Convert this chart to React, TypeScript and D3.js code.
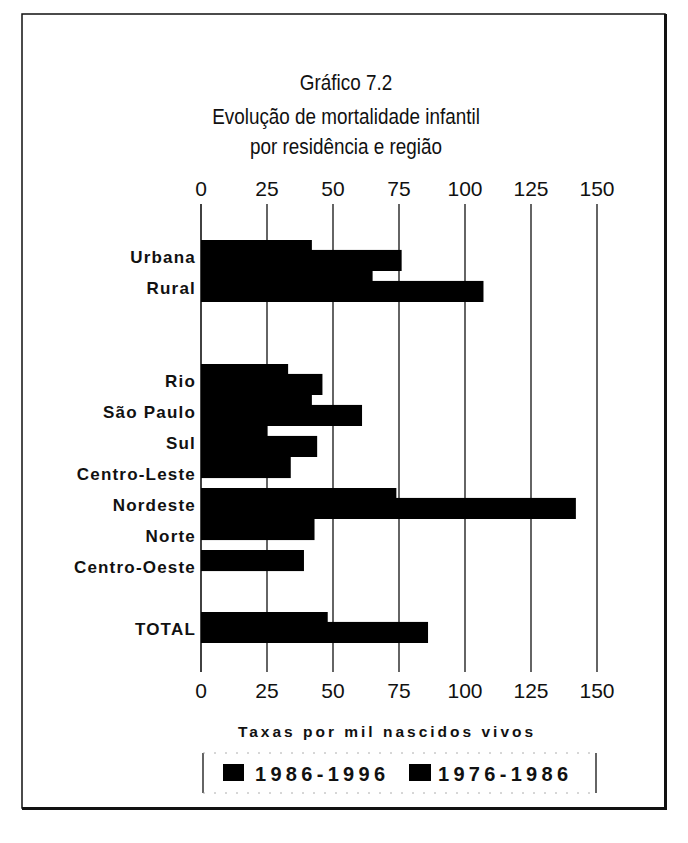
import React from "react";
import * as d3 from "d3";

const rows = ["Urbana", "Rural", "gap1", "gap2", "Rio", "São Paulo", "Sul", "Centro-Leste", "Nordeste", "Norte", "Centro-Oeste", "gap3", "TOTAL"];
const categories = ["Urbana", "Rural", "Rio", "São Paulo", "Sul", "Centro-Leste", "Nordeste", "Norte", "Centro-Oeste", "TOTAL"];
const values8696: (number | null)[] = [42, 65, 33, 42, 25, 34, 74, 43, 39, 48];
const values7686: (number | null)[] = [76, 107, 46, 61, 44, null, 142, null, null, 86];
const seriesNames = ["1986-1996", "1976-1986"];
const tickValues = [0, 25, 50, 75, 100, 125, 150];
const titleLines = ["Gráfico 7.2", "Evolução de mortalidade infantil", "por residência e região"];
const axisTitle = "Taxas por mil nascidos vivos";

const W = 688;
const H = 843;

export default function App() {
  const x = d3.scaleLinear().domain([0, 150]).range([201, 597]);
  const y = d3.scaleBand<string>().domain(rows).range([240, 240 + rows.length * 31]).paddingInner(0).paddingOuter(0);
  const bw = y.bandwidth();
  const barH = bw * 0.68;
  const gridTop = 204;
  const gridBottom = 672;
  const font = "'Liberation Sans', Arial, Helvetica, sans-serif";
  const titleCx = 346;
  const sx = 0.84;

  return (
    <svg width={W} height={H} style={{ position: "absolute", left: 0, top: 0, background: "#fff" }} fontFamily={font}>
      <rect x={0} y={0} width={W} height={H} fill="#fff" />
      {/* frame */}
      <rect x={22} y={14} width={643} height={794} fill="none" stroke="#111" strokeWidth={1.5} />
      <line x1={665.5} y1={14} x2={665.5} y2={810} stroke="#111" strokeWidth={3} />
      <line x1={22} y1={808.5} x2={667} y2={808.5} stroke="#111" strokeWidth={3} />

      {/* titles */}
      {titleLines.map((t, i) => (
        <text key={i} transform={`translate(${titleCx},${[90, 124, 154][i]}) scale(${sx},1)`} textAnchor="middle" fontSize={22.5} fill="#111">{t}</text>
      ))}

      {/* grid */}
      {tickValues.map((v) => (
        <line key={"g" + v} x1={x(v)} x2={x(v)} y1={gridTop} y2={gridBottom} stroke="#111" strokeWidth={v === 0 ? 1.6 : 1.3} />
      ))}
      {/* tick labels top & bottom */}
      {tickValues.map((v) => (
        <text key={"tt" + v} x={x(v)} y={196} textAnchor="middle" fontSize={21} fill="#111">{v}</text>
      ))}
      {tickValues.map((v) => (
        <text key={"tb" + v} x={x(v)} y={698} textAnchor="middle" fontSize={21} fill="#111">{v}</text>
      ))}

      {/* bars */}
      {categories.map((c, i) => {
        const v = values8696[i];
        return v == null ? null : (
          <rect key={"a" + c} x={x(0)} y={y(c)!} width={x(v) - x(0)} height={barH} fill="#000" />
        );
      })}
      {categories.map((c, i) => {
        const v = values7686[i];
        return v == null ? null : (
          <rect key={"b" + c} x={x(0)} y={y(c)! + bw - barH} width={x(v) - x(0)} height={barH} fill="#000" />
        );
      })}

      {/* category labels */}
      {categories.map((c) => (
        <text key={"l" + c} x={196} y={y(c)! + 17} dominantBaseline="central" textAnchor="end" fontSize={17} fontWeight="bold" letterSpacing={1.2} fill="#111">{c}</text>
      ))}

      {/* axis title */}
      <text x={387} y={737} textAnchor="middle" fontSize={15.5} fontWeight="bold" letterSpacing={3} fill="#111">{axisTitle}</text>

      {/* legend */}
      <line x1={203} x2={203} y1={753} y2={793} stroke="#111" strokeWidth={1.3} />
      <line x1={596} x2={596} y1={753} y2={793} stroke="#111" strokeWidth={1.3} />
      <line x1={203} x2={596} y1={753} y2={753} stroke="#999" strokeWidth={0.8} strokeDasharray="2 9" />
      <line x1={203} x2={596} y1={793} y2={793} stroke="#999" strokeWidth={0.8} strokeDasharray="2 9" />
      <rect x={223} y={764} width={21} height={17} fill="#000" />
      <text x={255} y={781} fontSize={20} fontWeight="bold" letterSpacing={4.3} fill="#111">{seriesNames[0]}</text>
      <rect x={409} y={764} width={22} height={17} fill="#000" />
      <text x={438} y={781} fontSize={20} fontWeight="bold" letterSpacing={4.3} fill="#111">{seriesNames[1]}</text>
    </svg>
  );
}
